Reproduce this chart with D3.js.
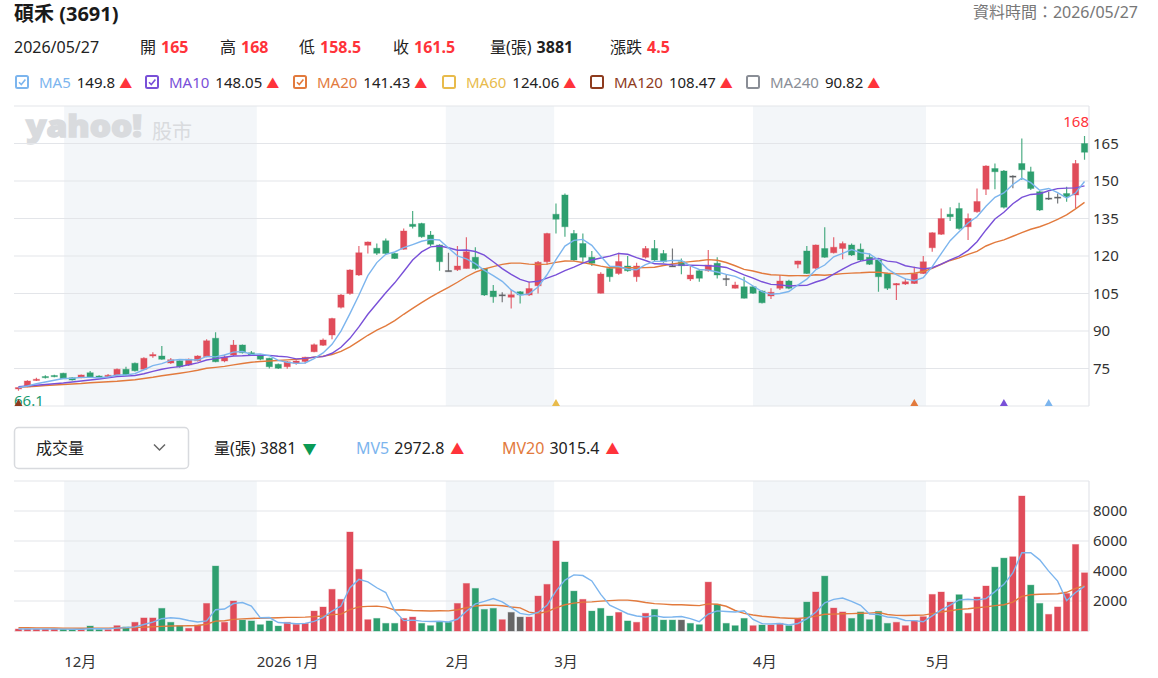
<!DOCTYPE html>
<html>
<head>
<meta charset="utf-8">
<title>碩禾 (3691)</title>
<script src="https://d3js.org/d3.v7.min.js"></script>
<style>
body { margin: 0; background: #fff; }
svg text { font-family: "Noto Sans", "Noto Sans CJK TC", sans-serif; }
</style>
</head>
<body>
<div id="chart"></div>
<script>
// daily candles, 2025/11/24 .. 2026/05/27
var opens = [66.8, 67.7, 70.2, 71.8, 72.2, 73.1, 71.3, 71.3, 73.3, 72.0,
  71.7, 72.4, 74.7, 77.1, 74.7, 80.0, 80.0, 77.2, 78.1, 76.4,
  78.1, 79.7, 87.1, 78.0, 80.4, 84.4, 81.3, 80.4, 79.1, 76.7,
  75.7, 77.1, 77.8, 81.7, 84.3, 88.4, 99.5, 105.0, 112.4, 124.3,
  123.1, 126.1, 121.0, 122.7, 132.7, 133.0, 128.4, 124.4, 114.2, 114.5,
  115.0, 119.5, 115.0, 106.0, 104.5, 103.5, 105.7, 104.4, 108.1, 117.7,
  136.7, 144.4, 129.0, 125.0, 119.5, 105.1, 115.0, 113.0, 116.0, 111.7,
  119.5, 123.0, 121.0, 116.1, 117.7, 110.8, 114.1, 114.1, 117.1, 111.0,
  107.1, 107.7, 107.7, 106.0, 104.0, 107.1, 110.0, 116.7, 122.0, 115.1,
  123.0, 121.3, 123.0, 124.4, 122.7, 119.5, 118.4, 113.0, 108.4, 108.8,
  109.0, 113.0, 123.3, 128.7, 136.7, 139.0, 131.7, 137.7, 146.7, 155.0,
  154.0, 152.0, 157.0, 153.7, 145.7, 143.2, 143.6, 145.0, 144.4, 165.0];
var highs = [67.6, 70.3, 71.3, 72.3, 72.5, 73.3, 71.5, 72.6, 74.0, 72.3,
  72.8, 75.0, 75.7, 77.4, 79.5, 81.5, 84.0, 79.2, 78.3, 79.0,
  80.3, 86.7, 89.5, 80.5, 86.4, 84.6, 82.0, 80.6, 79.3, 77.0,
  78.0, 78.3, 79.7, 85.0, 87.0, 95.3, 104.8, 114.7, 124.0, 125.8,
  125.0, 127.0, 121.2, 131.0, 138.0, 133.3, 130.0, 124.7, 121.3, 124.0,
  127.5, 123.5, 115.2, 108.4, 105.5, 106.5, 106.0, 109.7, 118.0, 129.3,
  141.0, 145.0, 130.4, 129.0, 122.0, 113.5, 115.3, 121.3, 120.0, 117.3,
  124.0, 126.4, 122.4, 123.0, 119.0, 116.0, 114.4, 122.4, 119.5, 112.4,
  109.7, 111.7, 108.0, 106.3, 107.1, 112.4, 110.5, 118.1, 124.0, 124.6,
  131.5, 127.5, 125.8, 125.0, 125.0, 121.0, 118.8, 113.3, 109.2, 111.0,
  115.7, 120.0, 129.5, 139.0, 139.5, 141.3, 137.0, 147.0, 156.3, 157.0,
  154.4, 152.3, 167.0, 155.7, 146.0, 145.7, 145.0, 147.7, 158.4, 168.0];
var lows = [66.1, 67.5, 70.0, 71.0, 71.5, 70.8, 70.2, 71.1, 71.3, 71.1,
  71.5, 72.2, 72.0, 73.8, 74.5, 79.3, 78.5, 76.8, 75.3, 76.0,
  77.8, 79.5, 77.5, 77.5, 80.0, 81.0, 80.0, 78.3, 75.0, 74.8,
  74.9, 76.5, 77.0, 81.5, 84.0, 86.7, 99.0, 104.5, 112.0, 121.0,
  120.4, 120.5, 118.8, 122.5, 131.0, 127.3, 124.0, 114.1, 113.9, 114.0,
  115.0, 114.5, 104.0, 101.3, 101.5, 99.0, 101.0, 104.0, 105.0, 116.5,
  129.0, 127.7, 118.0, 117.7, 116.0, 105.0, 109.7, 112.5, 113.7, 109.7,
  119.0, 118.0, 117.3, 115.8, 112.7, 110.0, 109.7, 113.7, 111.0, 108.0,
  107.0, 103.0, 104.8, 101.0, 102.8, 106.4, 106.7, 115.1, 112.8, 114.8,
  119.3, 121.0, 118.7, 120.0, 118.0, 116.4, 105.7, 106.4, 102.4, 108.4,
  108.8, 112.8, 121.7, 128.4, 134.0, 130.5, 126.4, 137.3, 144.4, 146.7,
  139.0, 147.1, 150.4, 146.4, 138.0, 142.4, 141.0, 141.7, 139.0, 158.5];
var closes = [67.4, 70.0, 70.7, 71.5, 72.0, 70.9, 70.4, 72.4, 71.5, 71.3,
  72.3, 74.7, 72.3, 74.1, 79.1, 80.6, 78.7, 78.5, 75.7, 78.7,
  80.0, 86.1, 77.7, 79.5, 84.4, 81.3, 80.4, 78.7, 75.7, 75.1,
  77.7, 78.0, 79.5, 84.5, 86.4, 95.0, 104.4, 114.4, 121.3, 125.6,
  121.1, 121.0, 119.0, 130.0, 131.8, 127.7, 124.7, 117.7, 114.2, 116.0,
  121.7, 115.0, 104.4, 103.7, 104.5, 104.5, 104.5, 107.0, 117.5, 129.0,
  134.7, 131.7, 118.4, 119.5, 117.1, 112.8, 111.7, 117.8, 114.1, 116.0,
  123.0, 118.4, 117.7, 116.1, 116.1, 112.4, 111.1, 116.4, 112.4, 111.0,
  108.4, 103.1, 105.1, 101.3, 105.5, 110.0, 107.1, 118.0, 113.0, 124.4,
  119.5, 123.5, 125.0, 120.4, 118.4, 116.7, 111.7, 107.1, 109.0, 109.7,
  113.0, 117.7, 129.3, 135.0, 135.7, 131.0, 135.0, 141.8, 156.0, 153.7,
  139.5, 152.0, 154.5, 147.0, 138.4, 143.2, 143.6, 143.7, 157.0, 161.5];
var volumes = [130, 130, 130, 130, 130, 110, 90, 110, 330, 90,
  90, 355, 270, 580, 870, 870, 1510, 580, 355, 180,
  400, 1840, 4330, 580, 2000, 730, 670, 420, 670, 330,
  580, 440, 510, 1330, 1600, 2780, 2110, 6600, 4110, 755,
  840, 510, 510, 840, 930, 510, 355, 620, 580, 1840,
  3170, 2840, 1440, 1510, 755, 1240, 930, 930, 2330, 3110,
  6000, 4600, 2660, 2110, 1330, 1510, 1000, 1240, 670, 580,
  1180, 1440, 730, 730, 730, 510, 420, 3260, 1780, 510,
  355, 840, 355, 400, 400, 510, 355, 840, 1930, 2600,
  3660, 1530, 1270, 840, 1270, 755, 1310, 510, 580, 355,
  690, 955, 2440, 2600, 1930, 2420, 1180, 2260, 3000, 4260,
  4860, 4950, 9000, 3060, 1840, 1110, 1603, 2500, 5770, 3881];

// moving averages as shown on the chart
var ma5 = [67.3, 68.0, 68.9, 69.6, 70.32, 71.02, 71.1, 71.44, 71.44, 71.3,
  71.58, 72.44, 72.42, 72.94, 74.5, 76.16, 76.96, 78.26, 78.58, 78.5,
  78.38, 79.86, 79.64, 80.4, 81.54, 81.8, 80.66, 80.86, 80.1, 78.24,
  77.52, 77.04, 77.2, 78.96, 81.22, 84.68, 89.96, 96.94, 104.3, 112.14,
  117.36, 120.68, 121.6, 123.34, 124.58, 125.9, 126.64, 126.38, 123.22, 120.06,
  118.86, 116.92, 114.26, 112.16, 109.86, 106.42, 104.32, 104.84, 107.6, 112.5,
  118.54, 123.98, 126.26, 126.66, 124.28, 119.9, 115.9, 115.78, 114.7, 114.48,
  116.52, 117.86, 117.84, 118.24, 118.18, 116.06, 114.6, 114.34, 113.6, 112.66,
  111.86, 110.26, 108.0, 105.78, 104.68, 105.0, 105.8, 108.38, 110.72, 114.5,
  116.4, 119.68, 121.08, 122.56, 121.36, 120.8, 118.44, 114.86, 112.58, 110.84,
  110.1, 111.3, 115.74, 120.94, 126.14, 129.74, 133.2, 135.7, 139.9, 143.5,
  145.2, 148.6, 151.14, 149.34, 146.28, 147.02, 145.34, 143.18, 145.18, 149.8];
var ma10 = [67.7, 68.0, 68.3, 68.6, 68.9, 69.2, 69.6, 70.0, 70.4, 70.81,
  71.3, 71.77, 71.93, 72.19, 72.9, 73.87, 74.7, 75.34, 75.76, 76.5,
  77.27, 78.41, 78.95, 79.49, 80.02, 80.09, 80.26, 80.25, 80.25, 79.89,
  79.66, 78.85, 79.03, 79.53, 79.73, 81.1, 83.5, 87.07, 91.63, 96.68,
  101.02, 105.32, 109.27, 113.82, 118.36, 121.63, 123.66, 123.99, 123.28, 122.32,
  122.38, 121.78, 120.32, 117.69, 114.96, 112.64, 110.62, 109.55, 109.88, 111.18,
  112.48, 114.15, 115.55, 117.13, 118.39, 119.22, 119.94, 121.02, 120.68, 119.38,
  118.21, 116.88, 116.81, 116.47, 116.33, 116.29, 116.23, 116.09, 115.92, 115.42,
  113.96, 112.43, 111.17, 109.69, 108.67, 108.43, 108.03, 108.19, 108.25, 109.59,
  110.7, 112.74, 114.73, 116.64, 117.93, 118.6, 119.06, 117.97, 117.57, 116.1,
  115.45, 114.87, 115.3, 116.76, 118.49, 119.92, 122.25, 125.72, 130.42, 134.82,
  137.47, 140.9, 143.42, 144.62, 144.89, 146.11, 146.97, 147.16, 147.26, 148.05];
var ma20 = [67.5, 67.7, 67.9, 68.2, 68.4, 68.6, 68.8, 69.0, 69.3, 69.5,
  69.7, 69.9, 70.2, 70.5, 71.0, 71.5, 72.1, 72.6, 73.1, 73.66,
  74.29, 75.09, 75.44, 75.84, 76.46, 76.98, 77.48, 77.8, 78.0, 78.2,
  78.47, 78.63, 78.99, 79.51, 79.88, 80.6, 81.88, 83.66, 85.94, 88.29,
  90.34, 92.09, 94.15, 96.68, 99.05, 101.37, 103.58, 105.53, 107.46, 109.5,
  111.7, 113.55, 114.8, 115.76, 116.66, 117.14, 117.14, 116.77, 116.58, 116.75,
  117.43, 117.97, 117.94, 117.41, 116.68, 115.93, 115.28, 115.29, 115.28, 115.28,
  115.35, 115.52, 116.18, 116.8, 117.36, 117.76, 118.09, 118.56, 118.3, 117.4,
  116.09, 114.66, 113.99, 113.08, 112.5, 112.36, 112.13, 112.14, 112.09, 112.5,
  112.33, 112.59, 112.95, 113.17, 113.3, 113.52, 113.55, 113.08, 112.91, 112.85,
  113.08, 113.81, 115.02, 116.7, 118.21, 119.26, 120.66, 121.85, 124.0, 125.46,
  126.46, 127.89, 129.36, 130.69, 131.69, 133.02, 134.61, 136.44, 138.84, 141.43];
var mv5 = [130, 130, 130, 130, 130, 126, 118, 114, 154, 146,
  142, 195, 227, 277, 433, 589, 820, 882, 837, 699,
  605, 671, 1421, 1466, 1830, 1896, 1662, 880, 898, 564,
  534, 488, 506, 638, 892, 1332, 1666, 2884, 3440, 3271,
  2883, 2563, 1345, 691, 726, 660, 629, 651, 599, 781,
  1313, 1810, 1974, 2160, 1943, 1557, 1175, 1073, 1237, 1708,
  2660, 3394, 3740, 3696, 3340, 2442, 1722, 1438, 1150, 1000,
  934, 1022, 920, 932, 962, 828, 624, 1130, 1340, 1296,
  1265, 1349, 768, 492, 470, 501, 404, 501, 807, 1247,
  1877, 2112, 2198, 1980, 1714, 1133, 1089, 937, 885, 702,
  689, 618, 1004, 1408, 1723, 2069, 2114, 2078, 2158, 2624,
  3112, 3866, 5214, 5226, 4742, 3992, 3323, 2023, 2565, 2972.8];
var mv20 = [220, 215, 210, 205, 200, 195, 190, 185, 185, 185,
  190, 200, 215, 235, 260, 285, 310, 330, 340, 352,
  366, 451, 661, 684, 777, 808, 837, 853, 870, 882,
  906, 910, 922, 960, 996, 1092, 1122, 1423, 1611, 1639,
  1661, 1595, 1404, 1417, 1363, 1352, 1337, 1347, 1342, 1418,
  1547, 1667, 1714, 1723, 1680, 1603, 1544, 1261, 1172, 1290,
  1548, 1752, 1860, 1923, 1943, 1993, 2025, 2056, 2061, 1998,
  1898, 1828, 1793, 1754, 1753, 1716, 1691, 1807, 1780, 1650,
  1367, 1179, 1064, 979, 932, 882, 850, 830, 893, 994,
  1118, 1122, 1149, 1155, 1182, 1194, 1239, 1101, 1041, 1033,
  1050, 1056, 1160, 1270, 1347, 1442, 1483, 1554, 1608, 1691,
  1751, 1922, 2308, 2419, 2448, 2466, 2480, 2580, 2839, 3015.4];

// month starts, in candle index units
var monthNames = ["12月", "2026 1月", "2月", "3月", "4月", "5月"];
var monthStarts = [5.6, 27.1, 48.2, 60.3, 82.5, 101.8];

var priceTicks = [60, 75, 90, 105, 120, 135, 150, 165, 180];
var volTicks = [0, 2000, 4000, 6000, 8000, 10000];

// legend rows
var maNames = ["MA5", "MA10", "MA20", "MA60", "MA120", "MA240"];
var maLast = ["149.8", "148.05", "141.43", "124.06", "108.47", "90.82"];
var maShown = [true, true, true, false, false, false];
var quoteLabels = ["開", "高", "低", "收", "量(張)", "漲跌"];
var quoteValues = ["165", "168", "158.5", "161.5", "3881", "4.5"];

// cross markers at bottom of price panel: candle index, MA name
var markIdx = [0, 60, 100, 110, 115];
var markMa = ["MA120", "MA60", "MA20", "MA10", "MA5"];

var maColor = {MA5: "#7cb5ee", MA10: "#7950d8", MA20: "#e27a3d", MA60: "#e8bb4c", MA120: "#8e3b1e", MA240: "#8a8e96"};
var RED = "#e04c5a", GREEN = "#2e9f6f", GRAY = "#5e6064", UPTXT = "#ff333a";

var svg = d3.select("#chart").append("svg")
    .attr("width", 1158)
    .attr("height", 678);

var left = 14, right = 1089;
var pTop = 106, pBot = 406, vTop = 481, vBot = 631;
var n = closes.length;

var x = d3.scaleBand().domain(d3.range(n)).range([left, right])
    .paddingInner(0.3).paddingOuter(0.15);
var xm = d3.scaleLinear().domain([0, n]).range([left, right]);
var y = d3.scaleLinear().domain([60, 180]).range([pBot, pTop]);
var yv = d3.scaleLinear().domain([0, 10000]).range([vBot, vTop]);
function cx(i) { return x(i) + x.bandwidth() / 2; }

// ---------- header ----------
svg.append("text").attr("x", 14).attr("y", 21)
    .attr("font-size", 20).attr("font-weight", 700).attr("fill", "#1a1a1a")
    .text("碩禾 (3691)");
svg.append("text").attr("x", 1138).attr("y", 18).attr("text-anchor", "end")
    .attr("font-size", 16).attr("fill", "#777")
    .text("資料時間：2026/05/27");

svg.append("text").attr("x", 14).attr("y", 53).attr("font-size", 16).attr("fill", "#222")
    .text("2026/05/27");
var quoteX = [140, 220, 299, 393, 490, 610];
quoteLabels.forEach(function(l, k) {
  var t = svg.append("text").attr("x", quoteX[k]).attr("y", 53).attr("font-size", 16).attr("fill", "#222");
  t.append("tspan").text(l);
  t.append("tspan").attr("dx", 5).attr("font-weight", 700)
    .attr("fill", l === "量(張)" ? "#222" : UPTXT).text(quoteValues[k]);
});

// MA legend
var legX = [15, 145, 293, 442, 590, 746];
maNames.forEach(function(m, k) {
  var c = maColor[m];
  var g = svg.append("g").attr("transform", "translate(" + legX[k] + ",75)");
  g.append("rect").attr("x", 1).attr("y", 1).attr("width", 12).attr("height", 12)
    .attr("rx", 1.5).attr("fill", "#fff").attr("stroke", c).attr("stroke-width", 2);
  if (maShown[k]) {
    g.append("path").attr("d", "M4,7.2 L6.3,9.6 L10.4,4.6")
      .attr("fill", "none").attr("stroke", c).attr("stroke-width", 1.6);
  }
  var t = g.append("text").attr("x", 24).attr("y", 13).attr("font-size", 15);
  t.append("tspan").attr("fill", c).text(m);
  t.append("tspan").attr("dx", 6).attr("fill", "#222").text(maLast[k]);
  t.append("tspan").attr("dx", 4).attr("fill", UPTXT).attr("font-size", 13).text("▲");
});

// ---------- month shading ----------
[0, 2, 4].forEach(function(k) {
  [[pTop, pBot], [vTop, vBot]].forEach(function(r) {
    svg.append("rect")
      .attr("x", xm(monthStarts[k])).attr("y", r[0])
      .attr("width", xm(monthStarts[k + 1]) - xm(monthStarts[k]))
      .attr("height", r[1] - r[0])
      .attr("fill", "#f3f6f9");
  });
});

// watermark
svg.append("text").attr("x", 26).attr("y", 137)
    .attr("font-size", 30).attr("font-weight", 900).attr("fill", "#d9dbde")
    .attr("stroke", "#d9dbde").attr("stroke-width", 1.4)
    .attr("textLength", 116).attr("lengthAdjust", "spacingAndGlyphs")
    .text("yahoo!");
svg.append("text").attr("x", 152).attr("y", 139)
    .attr("font-size", 20).attr("fill", "#d9dbde").text("股市");

// ---------- grid ----------
svg.append("g").selectAll("line").data(priceTicks).enter().append("line")
    .attr("x1", left).attr("x2", right)
    .attr("y1", function(d) { return y(d); }).attr("y2", function(d) { return y(d); })
    .attr("stroke", "#e3e5e9").attr("stroke-width", 1.2);
svg.append("g").selectAll("line").data(volTicks).enter().append("line")
    .attr("x1", left).attr("x2", right)
    .attr("y1", function(d) { return yv(d); }).attr("y2", function(d) { return yv(d); })
    .attr("stroke", "#e3e5e9").attr("stroke-width", 1.2);
svg.append("line").attr("x1", right).attr("x2", right).attr("y1", pTop).attr("y2", pBot)
    .attr("stroke", "#e3e5e9").attr("stroke-width", 1.2);
svg.append("line").attr("x1", right).attr("x2", right).attr("y1", vTop).attr("y2", vBot)
    .attr("stroke", "#e3e5e9").attr("stroke-width", 1.2);

svg.append("g").selectAll("text").data(priceTicks.slice(1, -1)).enter().append("text")
    .attr("x", 1093).attr("y", function(d) { return y(d); }).attr("dy", "0.35em")
    .attr("font-size", 15).attr("fill", "#333").text(function(d) { return d; });
svg.append("g").selectAll("text").data(volTicks.slice(1, -1)).enter().append("text")
    .attr("x", 1093).attr("y", function(d) { return yv(d); }).attr("dy", "0.35em")
    .attr("font-size", 15).attr("fill", "#333").text(function(d) { return d; });

svg.append("g").selectAll("text").data(monthNames).enter().append("text")
    .attr("x", function(d, k) { return xm(monthStarts[k]); }).attr("y", 667)
    .attr("font-size", 15).attr("fill", "#333").text(function(d) { return d; });

// ---------- candles ----------
function candleColor(i) {
  if (closes[i] > opens[i]) return RED;
  if (closes[i] < opens[i]) return GREEN;
  return GRAY;
}
var cg = svg.append("g");
cg.selectAll("line").data(d3.range(n)).enter().append("line")
    .attr("x1", cx).attr("x2", cx)
    .attr("y1", function(i) { return y(highs[i]); })
    .attr("y2", function(i) { return y(lows[i]); })
    .attr("stroke", candleColor).attr("stroke-opacity", 0.85).attr("stroke-width", 1.2);
cg.selectAll("rect").data(d3.range(n)).enter().append("rect")
    .attr("x", function(i) { return x(i); })
    .attr("width", x.bandwidth())
    .attr("y", function(i) { return y(Math.max(opens[i], closes[i])); })
    .attr("height", function(i) { return Math.max(1.2, Math.abs(y(opens[i]) - y(closes[i]))); })
    .attr("fill", candleColor)
    .attr("stroke", candleColor).attr("stroke-opacity", 0.35).attr("stroke-width", 1);

var line = d3.line().x(function(d, i) { return cx(i); }).y(function(d) { return y(d); });
[[ma20, "MA20"], [ma10, "MA10"], [ma5, "MA5"]].forEach(function(s) {
  svg.append("path").datum(s[0]).attr("d", line)
    .attr("fill", "none").attr("stroke", maColor[s[1]]).attr("stroke-width", 1.4);
});

// high / low labels
var hiIdx = d3.maxIndex(highs), loIdx = d3.minIndex(lows);
svg.append("text").attr("x", right).attr("y", y(highs[hiIdx]) - 9)
    .attr("text-anchor", "end").attr("font-size", 15).attr("fill", UPTXT)
    .text(highs[hiIdx]);
svg.append("text").attr("x", left).attr("y", pBot)
    .attr("font-size", 15).attr("fill", "#1a9c72")
    .text(lows[loIdx]);

// cross markers
svg.append("g").selectAll("path").data(markIdx).enter().append("path")
    .attr("d", function(i) {
      var c = cx(i);
      return "M" + (c - 4) + "," + pBot + "L" + (c + 4) + "," + pBot + "L" + c + "," + (pBot - 7) + "Z";
    })
    .attr("fill", function(d, k) { return maColor[markMa[k]]; });

// ---------- volume ----------
function volColor(i) {
  if (i === 0) return RED;
  if (closes[i] > closes[i - 1]) return RED;
  if (closes[i] < closes[i - 1]) return GREEN;
  return "#666";
}
svg.append("g").selectAll("rect").data(d3.range(n)).enter().append("rect")
    .attr("x", function(i) { return x(i); })
    .attr("width", x.bandwidth())
    .attr("y", function(i) { return yv(volumes[i]); })
    .attr("height", function(i) { return yv(0) - yv(volumes[i]); })
    .attr("fill", volColor)
    .attr("stroke", volColor).attr("stroke-opacity", 0.35).attr("stroke-width", 1);

var vline = d3.line().x(function(d, i) { return cx(i); }).y(function(d) { return yv(d); });
svg.append("path").datum(mv20).attr("d", vline)
    .attr("fill", "none").attr("stroke", maColor.MA20).attr("stroke-width", 1.4);
svg.append("path").datum(mv5).attr("d", vline)
    .attr("fill", "none").attr("stroke", maColor.MA5).attr("stroke-width", 1.4);

// volume header
svg.append("rect").attr("x", 14.5).attr("y", 427.5).attr("width", 174).attr("height", 41)
    .attr("rx", 4).attr("fill", "#fff").attr("stroke", "#d8dade").attr("stroke-width", 1.5);
svg.append("text").attr("x", 36).attr("y", 454).attr("font-size", 16).attr("fill", "#222").text("成交量");
svg.append("path").attr("d", "M154,444.5 L159.5,450 L165,444.5")
    .attr("fill", "none").attr("stroke", "#666").attr("stroke-width", 1.5);

var vt = svg.append("text").attr("x", 214).attr("y", 454).attr("font-size", 16);
vt.append("tspan").attr("fill", "#222").text("量(張) " + volumes[n - 1]);
vt.append("tspan").attr("dx", 6).attr("fill", "#0a9a55").attr("font-size", 14).text("▼");
var vt2 = svg.append("text").attr("x", 356).attr("y", 454).attr("font-size", 16);
vt2.append("tspan").attr("fill", maColor.MA5).text("MV5");
vt2.append("tspan").attr("dx", 5).attr("fill", "#222").text(mv5[n - 1]);
vt2.append("tspan").attr("dx", 6).attr("fill", UPTXT).attr("font-size", 14).text("▲");
var vt3 = svg.append("text").attr("x", 502).attr("y", 454).attr("font-size", 16);
vt3.append("tspan").attr("fill", maColor.MA20).text("MV20");
vt3.append("tspan").attr("dx", 5).attr("fill", "#222").text(mv20[n - 1]);
vt3.append("tspan").attr("dx", 6).attr("fill", UPTXT).attr("font-size", 14).text("▲");
</script>
</body>
</html>
